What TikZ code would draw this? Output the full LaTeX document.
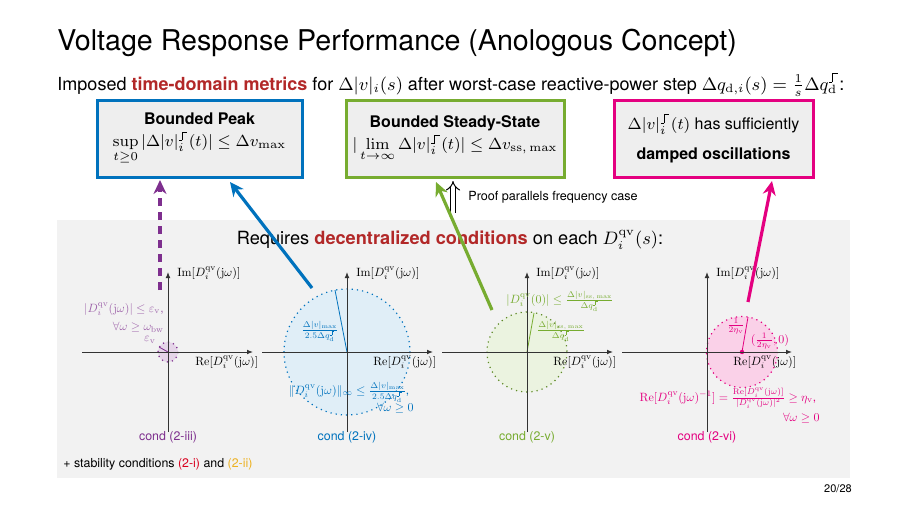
\documentclass[tikz,border=0pt]{standalone}
\usepackage{amsmath}
\usepackage{graphicx}
\usepackage[no-math]{fontspec}
\setmainfont{TeX Gyre Heros}
\usetikzlibrary{arrows.meta}
\definecolor{dred}{RGB}{178,40,40}
\definecolor{cblue}{RGB}{0,114,189}
\definecolor{cgreen}{RGB}{119,172,48}
\definecolor{cmag}{RGB}{228,0,128}
\definecolor{cpurp}{RGB}{126,47,142}
\definecolor{cred}{RGB}{217,0,30}
\definecolor{corange}{RGB}{237,177,32}
\definecolor{bggray}{RGB}{242,242,242}
\definecolor{boxgray}{RGB}{238,238,238}
\newcommand{\stepglyph}{\hbox{\kern0.05em\vrule width 0.25em height 0.06em depth 0pt\vrule width 0.06em height 0.75em depth 0pt\vrule width 0.4em height 0.75em depth -0.69em\kern0.05em}}
\newcommand{\stp}{\text{\stepglyph}}
\newcommand{\Dqv}{D_i^{\mathrm{qv}}}
\newcommand{\jw}{(\mathrm{j}\omega)}
\newcommand{\sm}[1]{\scalebox{0.6}{#1}}
\begin{document}
\begin{tikzpicture}[x=0.5pt,y=-0.5pt,
  metricbox/.style={draw=#1, line width=1.5pt, fill=boxgray, minimum height=38.5pt, align=center, inner sep=2pt, font=\fontsize{8}{10}\selectfont},
  axislbl/.style={font=\fontsize{10}{12}\selectfont, inner sep=1pt},
  condlbl/.style={font=\fontsize{6.2}{8}\selectfont, inner sep=1pt},
  axisline/.style={line width=0.5pt, black!80, -{Latex[length=3pt,width=2.4pt]}},
  bigarrow/.style={line width=1.6pt, -{Stealth[length=7pt,width=6.5pt]}},
  region/.style={line width=0.6pt, dotted}]
\useasboundingbox (0,0) rectangle (907,510);
\fill[bggray] (57,220) rectangle (850,478);

\node[anchor=base west, font=\fontsize{14.3}{17}\selectfont, inner sep=0pt] (title) at (57,50) {Voltage Response Performance (Anologous Concept)};
\node[anchor=base west, font=\fontsize{9}{11}\selectfont, inner sep=0pt] (sub) at (57,90) {Imposed \textbf{\color{dred}time-domain metrics} for $\Delta|v|_i(s)$ after worst-case reactive-power step $\Delta q_{\mathrm{d},i}(s)=\frac{1}{s}\Delta q_{\mathrm{d}}^{\stp}$:};

\node[metricbox=cblue, minimum width=102.5pt] (peak) at (199.5,138.5) {\textbf{Bounded Peak}\\[1pt] \fontsize{8.3}{10}\selectfont$\sup\limits_{t\geq 0}|\Delta|v|_i^{\stp}(t)|\leq\Delta v_{\max}$};
\node[metricbox=cgreen, minimum width=109pt] (ss) at (455,138.5) {\textbf{Bounded Steady-State}\\[1pt] \fontsize{8}{10}\selectfont$|\lim\limits_{t\to\infty}\Delta|v|_i^{\stp}(t)|\leq\Delta v_{\mathrm{ss,\,max}}$};
\node[metricbox=cmag, minimum width=99.5pt] (osc) at (713.5,138.5) {{\fontsize{8}{10}\selectfont$\Delta|v|_i^{\stp}(t)$} has sufficiently\\[5pt] \textbf{damped oscillations}};

\coordinate (dtop) at (453,181);
\coordinate (dbot) at (453,213);
\draw[double, double distance=2pt, line width=0.5pt, -{Implies}] (dbot) -- (dtop);
\node[anchor=west, font=\fontsize{6.3}{7}\selectfont, inner sep=0pt] (proof) at (468,197) {Proof parallels frequency case};

\node[font=\fontsize{9.1}{11}\selectfont, inner sep=0pt] (req) at (450,240) {Requires \textbf{\color{dred}decentralized conditions} on each $\Dqv(s)$:};

% ---- plot 1
\coordinate (o1) at (168,352);
\coordinate (h1a) at (82,352); \coordinate (h1b) at (253,352);
\coordinate (v1a) at (168,432); \coordinate (v1b) at (168,272);
\fill[cpurp!20] (o1) circle (10);
\draw[region, cpurp] (o1) circle (10);
\draw[line width=0.4pt, cpurp] (o1) -- (159,347);
\draw[axisline] (h1a) -- (h1b);
\draw[axisline] (v1a) -- (v1b);
\node[axislbl, anchor=west] (im1) at (175,273) {\sm{$\mathrm{Im}[\Dqv\jw]$}};
\node[axislbl, anchor=west] (re1) at (193,362) {\sm{$\mathrm{Re}[\Dqv\jw]$}};
\node[axislbl, anchor=east, text=cpurp!75] (c1a) at (166,309) {\sm{$|\Dqv\jw|\leq\varepsilon_{\mathrm{v}}$,}};
\node[axislbl, anchor=east, text=cpurp!75] (c1b) at (166,327) {\sm{$\forall\omega\geq\omega_{\mathrm{bw}}$}};
\node[axislbl, anchor=east, text=cpurp!75] (eps) at (158,340) {\sm{$\varepsilon_{\mathrm{v}}$}};
\node[condlbl, text=cpurp] (cond1) at (168,437) {cond (2-iii)};

% ---- plot 2
\coordinate (o2) at (347,352);
\coordinate (h2a) at (262,352); \coordinate (h2b) at (433,352);
\coordinate (v2a) at (347,432); \coordinate (v2b) at (347,272);
\coordinate (r2) at (335,290);
\fill[cblue!12] (o2) circle (63);
\draw[region, cblue] (o2) circle (63);
\draw[line width=0.4pt, cblue] (o2) -- (r2);
\draw[axisline] (h2a) -- (h2b);
\draw[axisline] (v2a) -- (v2b);
\node[axislbl, anchor=west] (im2) at (354,273) {\sm{$\mathrm{Im}[\Dqv\jw]$}};
\node[axislbl, anchor=west] (re2) at (371,362) {\sm{$\mathrm{Re}[\Dqv\jw]$}};
\node[axislbl, text=cblue] (rad2) at (320,331) {\sm{$\frac{\Delta|v|_{\max}}{2.5\Delta q_{\mathrm{d}}^{\stp}}$}};
\node[axislbl, text=cblue] (c2a) at (349,392) {\sm{$\|\Dqv\jw\|_\infty\leq\frac{\Delta|v|_{\max}}{2.5\Delta q_{\mathrm{d}}^{\stp}}$,}};
\node[axislbl, anchor=east, text=cblue] (c2b) at (416,408) {\sm{$\forall\omega\geq 0$}};
\node[condlbl, text=cblue] (cond2) at (347,437) {cond (2-iv)};

% ---- plot 3
\coordinate (o3) at (527,352);
\coordinate (h3a) at (442,352); \coordinate (h3b) at (613,352);
\coordinate (v3a) at (527,432); \coordinate (v3b) at (527,272);
\coordinate (r3) at (534,313);
\fill[cgreen!15] (o3) circle (40);
\draw[region, cgreen!80!black] (o3) circle (40);
\draw[line width=0.4pt, cgreen] (o3) -- (r3);
\draw[axisline] (h3a) -- (h3b);
\draw[axisline] (v3a) -- (v3b);
\node[axislbl, anchor=west] (im3) at (534,273) {\sm{$\mathrm{Im}[\Dqv\jw]$}};
\node[axislbl, anchor=west] (re3) at (551,362) {\sm{$\mathrm{Re}[\Dqv\jw]$}};
\node[axislbl, text=cgreen] (c3a) at (560,301) {\sm{$|\Dqv(0)|\leq\frac{\Delta|v|_{\mathrm{ss,\,max}}}{\Delta q_{\mathrm{d}}^{\stp}}$}};
\node[axislbl, text=cgreen] (rad3) at (561,331) {\sm{$\frac{\Delta|v|_{\mathrm{ss,\,max}}}{\Delta q_{\mathrm{d}}^{\stp}}$}};
\node[condlbl, text=cgreen] (cond3) at (527,437) {cond (2-v)};

% ---- plot 4
\coordinate (o4) at (707,352);
\coordinate (h4a) at (622,352); \coordinate (h4b) at (792,352);
\coordinate (v4a) at (707,432); \coordinate (v4b) at (707,272);
\coordinate (m4) at (742,352);
\coordinate (r4) at (748,317);
\fill[cmag!18] (m4) circle (35.5);
\draw[region, cmag] (m4) circle (35.5);
\draw[line width=0.4pt, cmag] (m4) -- (r4);
\fill[cmag] (m4) circle (2.2);
\draw[axisline] (h4a) -- (h4b);
\draw[axisline] (v4a) -- (v4b);
\node[axislbl, anchor=west] (im4) at (714,273) {\sm{$\mathrm{Im}[\Dqv\jw]$}};
\node[axislbl, anchor=west] (re4) at (731,362) {\sm{$\mathrm{Re}[\Dqv\jw]$}};
\node[axislbl, text=cmag] (rad4) at (736,326) {\sm{$\frac{1}{2\eta_{\mathrm{v}}}$}};
\node[axislbl, text=cmag] (ctr4) at (770,341) {\sm{$(\frac{1}{2\eta_{\mathrm{v}}},0)$}};
\node[axislbl, text=cmag] (c4a) at (728,398) {\sm{$\mathrm{Re}[\Dqv\jw^{-1}]=\frac{\mathrm{Re}[\Dqv\jw]}{|\Dqv\jw|^2}\geq\eta_{\mathrm{v}}$,}};
\node[axislbl, anchor=east, text=cmag] (c4b) at (822,418) {\sm{$\forall\omega\geq 0$}};
\node[condlbl, text=cmag] (cond4) at (707,437) {cond (2-vi)};

% ---- connectors
\coordinate (a1s) at (160,290);
\coordinate (a1e) at (160,180);
\draw[bigarrow, cpurp, line width=2pt, dash pattern=on 4pt off 3pt] (a1s) -- (a1e);
\coordinate (a2s) at (312,288);
\coordinate (a2e) at (230,182);
\draw[bigarrow, cblue] (a2s) -- (a2e);
\coordinate (a3s) at (492,310);
\coordinate (a3e) at (436,182);
\draw[bigarrow, cgreen] (a3s) -- (a3e);
\coordinate (a4s) at (748,302);
\coordinate (a4e) at (772,181);
\draw[bigarrow, cmag] (a4s) -- (a4e);

\node[anchor=base west, font=\fontsize{6.2}{8}\selectfont, inner sep=0pt] (stab) at (63,467) {+ stability conditions {\color{cred}(2-i)} and {\color{corange}(2-ii)}};
\node[font=\fontsize{5.5}{7}\selectfont, inner sep=0pt] (page) at (838,489) {20/28};
\end{tikzpicture}
\end{document}
